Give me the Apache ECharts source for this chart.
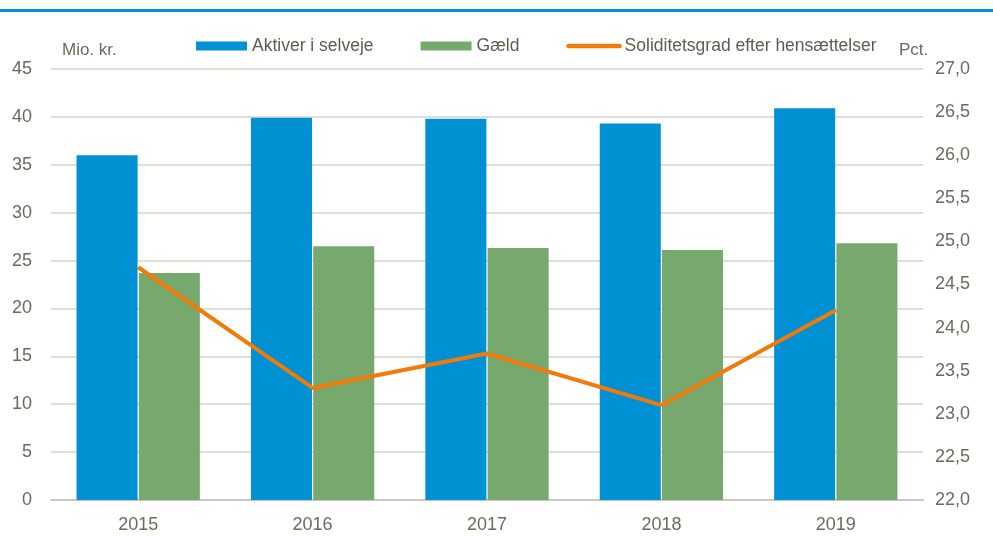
<!DOCTYPE html>
<html>
<head>
<meta charset="utf-8">
<script src="https://cdn.jsdelivr.net/npm/echarts@6/dist/echarts.min.js"></script>
<style>
    html, body { margin: 0; padding: 0; background: #fff; }
    #main { width: 993px; height: 536px; }
</style>
</head>
<body>
<div id="main"></div>
<script>
    var years = ['2015', '2016', '2017', '2018', '2019'];
    var aktiver = [36.0, 39.9, 39.8, 39.3, 40.9];
    var gaeld = [23.7, 26.5, 26.3, 26.1, 26.8];
    var soliditet = [24.7, 23.3, 23.7, 23.1, 24.2];

    var font = '"Liberation Sans", Arial, sans-serif';
    var textGrey = '#6b6b5d';

    var myChart = echarts.init(document.getElementById('main'));
    myChart.setOption({
        animation: false,
        textStyle: { fontFamily: font },
        graphic: [
            { type: 'rect', shape: { x: 0, y: 9, width: 993, height: 3 }, style: { fill: '#0090d4' } },
            { type: 'text', left: 62, top: 42, style: { text: 'Mio. kr.', font: '17px ' + font, fill: textGrey } },
            { type: 'text', left: 899, top: 42, style: { text: 'Pct.', font: '17px ' + font, fill: textGrey } }
        ],
        legend: {
            left: 191,
            top: 32,
            itemWidth: 51,
            itemHeight: 9,
            itemGap: 47,
            textStyle: { fontSize: 17.5, color: '#5d5d50', fontFamily: font },
            data: [
                { name: 'Aktiver i selveje', icon: 'rect' },
                { name: 'Gæld', icon: 'rect' },
                {
                    name: 'Soliditetsgrad efter hensættelser',
                    itemStyle: { opacity: 0 },
                    lineStyle: { width: 4.5, cap: 'round' }
                }
            ]
        },
        grid: {
            left: 51,
            right: 70,
            top: 69,
            bottom: 36
        },
        xAxis: {
            type: 'category',
            data: years,
            axisTick: { show: false },
            axisLine: { lineStyle: { color: '#c9c8be', width: 2 } },
            axisLabel: { color: textGrey, fontSize: 18, margin: 16 }
        },
        yAxis: [
            {
                type: 'value',
                min: 0,
                max: 45,
                interval: 5,
                axisLine: { show: false },
                axisTick: { show: false },
                axisLabel: { color: textGrey, fontSize: 18, margin: 19 },
                splitLine: { lineStyle: { color: '#d4d3cc', width: 1.5 } }
            },
            {
                type: 'value',
                min: 22,
                max: 27,
                interval: 0.5,
                axisLine: { show: false },
                axisTick: { show: false },
                splitLine: { show: false },
                axisLabel: {
                    color: textGrey,
                    fontSize: 18,
                    margin: 12,
                    formatter: function (v) { return v.toFixed(1).replace('.', ','); }
                }
            }
        ],
        series: [
            {
                name: 'Aktiver i selveje',
                type: 'bar',
                data: aktiver,
                barWidth: '35%',
                barGap: '2%',
                itemStyle: { color: '#0090d4' }
            },
            {
                name: 'Gæld',
                type: 'bar',
                data: gaeld,
                barWidth: '35%',
                barGap: '2%',
                itemStyle: { color: '#77a96f' }
            },
            {
                name: 'Soliditetsgrad efter hensættelser',
                type: 'line',
                yAxisIndex: 1,
                data: soliditet,
                symbol: 'none',
                lineStyle: { color: '#f07a0a', width: 4 },
                itemStyle: { color: '#f07a0a' }
            }
        ]
    });
</script>
</body>
</html>
